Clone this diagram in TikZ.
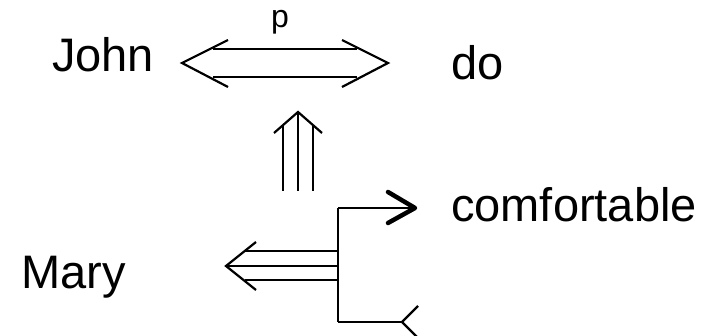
\documentclass[tikz,border=0pt]{standalone}
\usepackage{fontspec}
\setmainfont{Liberation Sans}
\usepackage{tikz}
\usetikzlibrary{positioning,calc}

\tikzset{
  word/.style={anchor=base west, inner sep=0pt, font=\fontsize{47}{50}\selectfont},
  link/.style={line width=2.2pt, line join=miter},
  boldhead/.style={line width=4.5pt, line cap=round, line join=round}
}

\begin{document}
\begin{tikzpicture}[x=1pt,y=-1pt]
    \useasboundingbox (0,0) rectangle (708,336);

    % Words
    \node[word] (john) at (52,72) {John};
    \node[word] (do) at (451,80) {do};
    \node[word] (comf) at (451,222) {comfortable};
    \node[word] (mary) at (21,288) {Mary};

    % Two-way link John <=> do
    \coordinate (jl) at (182,63);
    \coordinate (jr) at (388,63);
    \draw[link] ($(jl)+(31,-14)$) -- ($(jr)+(-31,-14)$);
    \draw[link] ($(jl)+(31,14)$) -- ($(jr)+(-31,14)$);
    \draw[link] ($(jl)+(46,-23)$) -- (jl) -- ($(jl)+(46,24)$);
    \draw[link] ($(jr)+(-46,-23)$) -- (jr) -- ($(jr)+(-46,24)$);
    \node[anchor=base, inner sep=0pt, font=\fontsize{32}{34}\selectfont] (p) at (280,28) {p};

    % Triple arrow up
    \coordinate (tt) at (298,112);
    \coordinate (tb) at (298,191);
    \draw[link] (tb) -- (tt);
    \draw[link] ($(tb)+(-15,0)$) -- ($(tt)+(-15,13)$);
    \draw[link] ($(tb)+(15,0)$) -- ($(tt)+(15,13)$);
    \draw[link] ($(tt)+(-24,21)$) -- (tt) -- ($(tt)+(24,21)$);

    % Branch on the right
    \coordinate (ft) at (338,208);
    \coordinate (fm) at (338,266);
    \coordinate (fb) at (338,322);
    \draw[link] (ft) -- (fb);
    \coordinate (ct) at (415,208);
    \draw[link] (ft) -- (ct);
    \draw[boldhead] ($(ct)+(-27,-16)$) -- (ct) -- ($(ct)+(-27,15)$);
    \coordinate (bt) at (402,322);
    \draw[link] (fb) -- (bt);
    \draw[link] ($(bt)+(16,-16)$) -- (bt) -- ($(bt)+(16,16)$);

    % Triple arrow towards Mary
    \coordinate (mt) at (226,266);
    \draw[link] (fm) -- (mt);
    \draw[link] ($(fm)+(0,-15)$) -- ($(mt)+(19,-15)$);
    \draw[link] ($(fm)+(0,14)$) -- ($(mt)+(19,14)$);
    \draw[link] ($(mt)+(30,-24)$) -- (mt) -- ($(mt)+(30,24)$);
\end{tikzpicture}
\end{document}
